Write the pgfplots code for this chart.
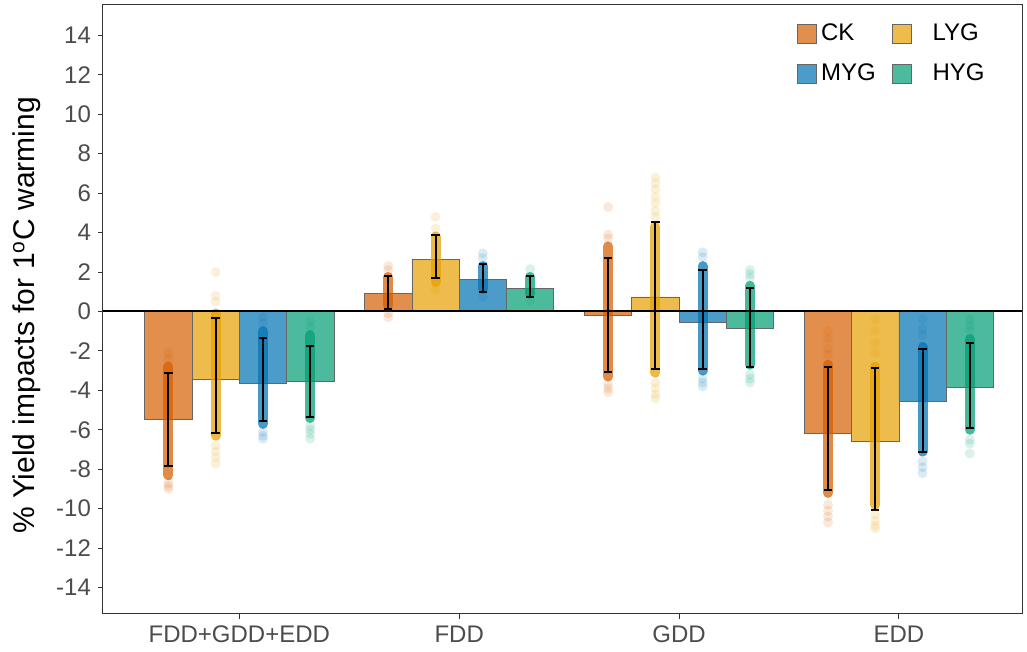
\documentclass[border=0pt]{standalone}
\usepackage{pgfplots}
\usepackage{pgfplotstable}
\pgfplotsset{compat=1.18}
\usepackage{fontspec}
\setmainfont{Liberation Sans}
\definecolor{ck}{HTML}{D55E00}
\definecolor{lyg}{HTML}{E69F00}
\definecolor{myg}{HTML}{0072B2}
\definecolor{hyg}{HTML}{009E73}

% g = group (1 FDD+GDD+EDD, 2 FDD, 3 GDD, 4 EDD); y = bar; lo/hi = error bar
\pgfplotstableread{
g y lo hi
1 -5.45 -7.83 -3.10
2 0.92 0.13 1.82
3 -0.18 -3.08 2.73
4 -6.18 -9.05 -2.80
}\ckdat
\pgfplotstableread{
g y lo hi
1 -3.44 -6.14 -0.31
2 2.66 1.68 3.88
3 0.74 -2.93 4.55
4 -6.57 -10.07 -2.85
}\lygdat
\pgfplotstableread{
g y lo hi
1 -3.64 -5.54 -1.36
2 1.63 1.00 2.41
3 -0.55 -2.92 2.10
4 -4.55 -7.14 -1.90
}\mygdat
\pgfplotstableread{
g y lo hi
1 -3.56 -5.33 -1.73
2 1.18 0.72 1.80
3 -0.84 -2.83 1.21
4 -3.86 -5.89 -1.61
}\hygdat

% dense core of the points (from, to) per group
\pgfplotstableread{
g c
1 -8.3
1 -2.8
1 nan
2 0.3
2 1.75
2 nan
3 -3.3
3 3.3
3 nan
4 -9.2
4 -2.7
}\ckcore
\pgfplotstableread{
g c
1 -6.3
1 -0.1
1 nan
2 1.5
2 3.8
2 nan
3 -3.1
3 4.3
3 nan
4 -9.8
4 -2.8
}\lygcore
\pgfplotstableread{
g c
1 -5.7
1 -1.0
1 nan
2 1.15
2 2.3
2 nan
3 -3.0
3 2.3
3 nan
4 -7.1
4 -1.8
}\mygcore
\pgfplotstableread{
g c
1 -5.4
1 -1.2
1 nan
2 0.9
2 1.75
2 nan
3 -2.7
3 1.3
3 nan
4 -6.0
4 -1.4
}\hygcore

% sparse outlying points
\pgfplotstableread{
g v
1 -2.1
1 -2.4
1 -8.7
1 -8.85
1 -9.0
2 2.1
2 2.3
2 -0.1
2 -0.3
3 5.3
3 3.9
3 3.7
3 -3.7
3 -3.9
3 -4.1
4 -1.0
4 -1.4
4 -1.9
4 -2.2
4 -9.8
4 -10.1
4 -10.4
4 -10.7
}\cktail
\pgfplotstableread{
g v
1 2.0
1 0.8
1 0.5
1 -6.8
1 -7.1
1 -7.4
1 -7.7
2 4.8
2 4.2
2 1.1
3 6.8
3 6.5
3 6.2
3 5.8
3 5.5
3 5.1
3 4.8
3 -3.6
3 -3.9
3 -4.2
3 -4.4
4 -0.4
4 -1.0
4 -1.6
4 -2.1
4 -10.3
4 -10.6
4 -10.85
4 -11.0
}\lygtail
\pgfplotstableread{
g v
1 -0.3
1 -0.6
1 -6.1
1 -6.3
1 -6.45
2 2.95
2 2.7
2 0.75
3 3.0
3 2.75
3 -3.4
3 -3.6
3 -3.8
4 -0.4
4 -0.9
4 -1.2
4 -7.6
4 -7.9
4 -8.2
}\mygtail
\pgfplotstableread{
g v
1 -0.5
1 -0.8
1 -5.8
1 -6.0
1 -6.2
1 -6.45
2 2.15
2 0.55
3 2.1
3 1.9
3 1.7
3 -3.2
3 -3.4
3 -3.6
4 -0.4
4 -0.7
4 -1.0
4 -6.5
4 -6.7
4 -7.2
}\hygtail

\pgfplotsset{
  corestyle/.style={draw=#1, line width=5pt, line cap=round, opacity=0.72, mark=none, forget plot, unbounded coords=jump},
  ebstyle/.style={only marks, mark=*, mark size=0.01pt, mark options={draw opacity=0, fill opacity=0}, forget plot,
    error bars/.cd, y dir=both, y explicit,
    error bar style={line width=1pt, draw=black}, error mark options={draw=black, line width=1pt, mark size=2.1pt, rotate=90}},
  tailstyle/.style={only marks, mark=*, mark size=2.5pt, forget plot,
    mark options={draw=#1, fill=#1, fill opacity=0.14, draw opacity=0}},
  barstyle/.style={ybar, bar width=0.215, bar shift=0pt, fill=#1, fill opacity=0.7, draw=black!60, line width=0.35pt, forget plot},
}

\begin{document}
\begin{tikzpicture}
\begin{axis}[
  scale only axis,
  width=459.5pt, height=304.5pt,
  xmin=0.38, xmax=4.56, ymin=-15.34, ymax=15.54,
  xtick={1,2,3,4},
  xticklabels={FDD+GDD+EDD,FDD,GDD,EDD},
  ytick={-14,-12,...,14},
  tick pos=left, tick align=outside,
  major tick length=2.5pt,
  every tick/.style={black!80, line width=0.5pt},
  axis line style={black!80, line width=0.5pt},
  tick label style={font=\fontsize{12}{14}\selectfont, text=black!70},
  /pgf/number format/assume math mode=true,
  ylabel={\% Yield impacts for 1\textsuperscript{o}C warming},
  ylabel style={font=\fontsize{15}{18}\selectfont, at={(axis description cs:-0.0827,0.49)}, anchor=center},
  legend columns=2,
  legend cell align=left,
  legend image code/.code={\draw[#1] (0pt,-4.75pt) rectangle (9.5pt,4.75pt);},
  legend style={at={(axis description cs:0.755,0.976)}, anchor=north west, draw=none, fill=none,
    inner sep=0pt, font=\fontsize{12}{14}\selectfont, row sep=6pt,
    /tikz/every even column/.append style={column sep=6pt}},
]
\addlegendimage{fill=ck, fill opacity=0.7, draw=black!60}
\addlegendentry{CK}
\addlegendimage{fill=lyg, fill opacity=0.7, draw=black!60}
\addlegendentry{\hspace{8.5pt}LYG}
\addlegendimage{fill=myg, fill opacity=0.7, draw=black!60}
\addlegendentry{MYG}
\addlegendimage{fill=hyg, fill opacity=0.7, draw=black!60}
\addlegendentry{\hspace{8.5pt}HYG}

% bars
\addplot[barstyle=ck] table[x expr=\thisrow{g}-0.3225, y=y] {\ckdat};
\addplot[barstyle=lyg] table[x expr=\thisrow{g}-0.1075, y=y] {\lygdat};
\addplot[barstyle=myg] table[x expr=\thisrow{g}+0.1075, y=y] {\mygdat};
\addplot[barstyle=hyg] table[x expr=\thisrow{g}+0.3225, y=y] {\hygdat};

% sparse points
\addplot[tailstyle=ck] table[x expr=\thisrow{g}-0.3225, y=v] {\cktail};
\addplot[tailstyle=lyg] table[x expr=\thisrow{g}-0.1075, y=v] {\lygtail};
\addplot[tailstyle=myg] table[x expr=\thisrow{g}+0.1075, y=v] {\mygtail};
\addplot[tailstyle=hyg] table[x expr=\thisrow{g}+0.3225, y=v] {\hygtail};

% dense cores of points
\addplot[corestyle=ck] table[x expr=\thisrow{g}-0.3225, y=c] {\ckcore};
\addplot[corestyle=lyg] table[x expr=\thisrow{g}-0.1075, y=c] {\lygcore};
\addplot[corestyle=myg] table[x expr=\thisrow{g}+0.1075, y=c] {\mygcore};
\addplot[corestyle=hyg] table[x expr=\thisrow{g}+0.3225, y=c] {\hygcore};

% error bars
\addplot[ebstyle] table[x expr=\thisrow{g}-0.3225, y expr={(\thisrow{lo}+\thisrow{hi})/2}, y error expr={(\thisrow{hi}-\thisrow{lo})/2}] {\ckdat};
\addplot[ebstyle] table[x expr=\thisrow{g}-0.1075, y expr={(\thisrow{lo}+\thisrow{hi})/2}, y error expr={(\thisrow{hi}-\thisrow{lo})/2}] {\lygdat};
\addplot[ebstyle] table[x expr=\thisrow{g}+0.1075, y expr={(\thisrow{lo}+\thisrow{hi})/2}, y error expr={(\thisrow{hi}-\thisrow{lo})/2}] {\mygdat};
\addplot[ebstyle] table[x expr=\thisrow{g}+0.3225, y expr={(\thisrow{lo}+\thisrow{hi})/2}, y error expr={(\thisrow{hi}-\thisrow{lo})/2}] {\hygdat};

% zero line
\addplot[black, line width=1pt, forget plot] coordinates {(0.38,0) (4.56,0)};
\end{axis}
\path ([shift={(-51.5pt,-19pt)}]current axis.south west) rectangle ([shift={(2.5pt,2.5pt)}]current axis.north east);
\end{tikzpicture}
\end{document}
